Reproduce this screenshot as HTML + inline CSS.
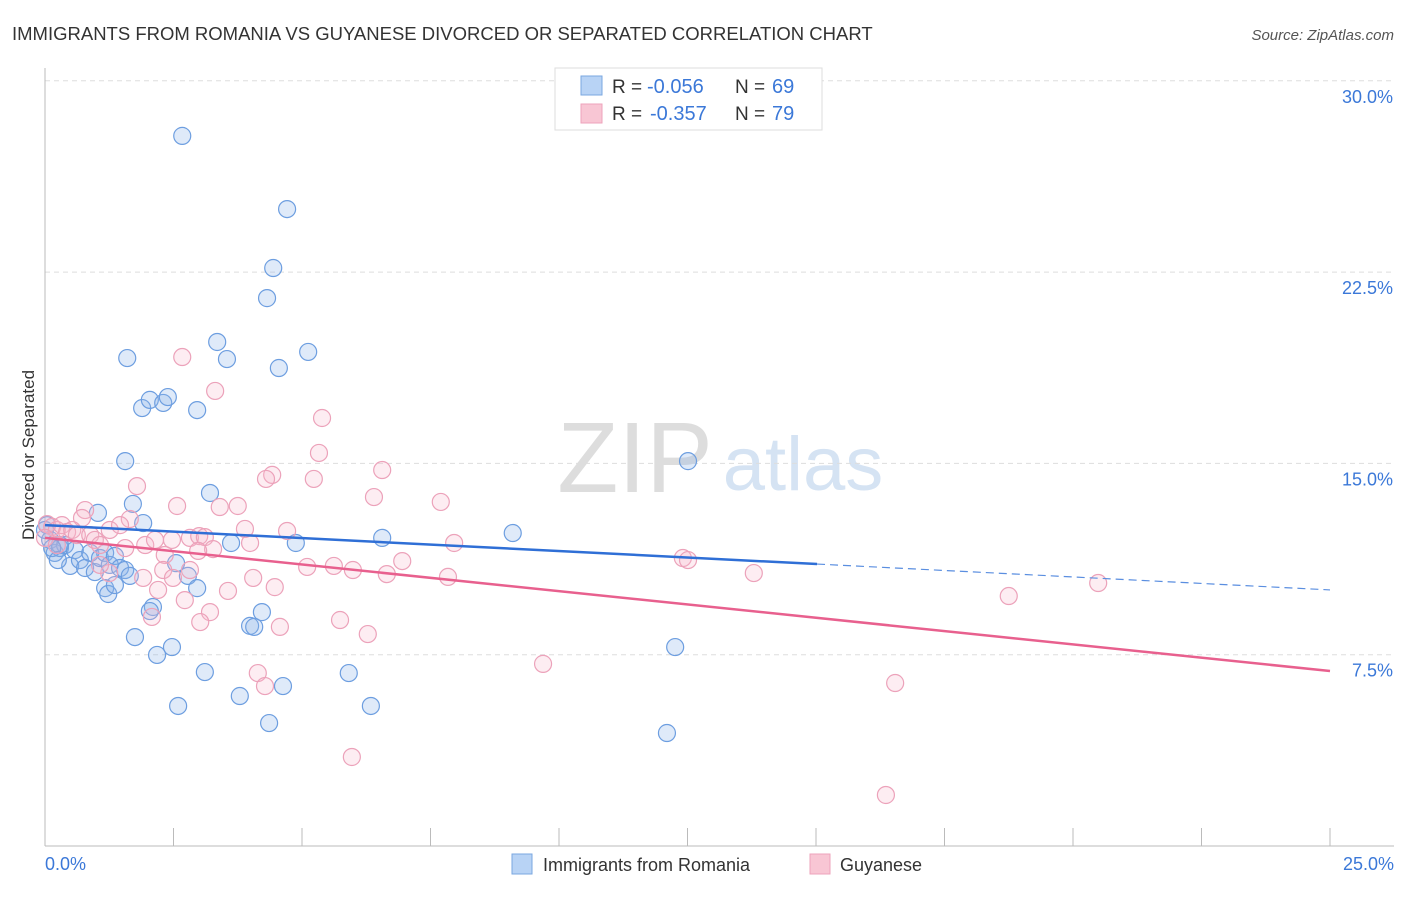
<!DOCTYPE html>
<html><head><meta charset="utf-8"><style>
body{margin:0;background:#fff;font-family:"Liberation Sans",sans-serif}
svg text{font-family:"Liberation Sans",sans-serif}
</style></head><body>
<svg id="c" width="1406" height="892">
<text x="12" y="40" font-size="18.5" fill="#333">IMMIGRANTS FROM ROMANIA VS GUYANESE DIVORCED OR SEPARATED CORRELATION CHART</text>
<text x="1394" y="40" font-size="15" fill="#555" font-style="italic" text-anchor="end">Source: ZipAtlas.com</text>
<text x="635" y="492" font-size="100" fill="#ddd" font-family="Liberation Serif" text-anchor="middle">ZIP</text>
<text x="803" y="490" font-size="76" fill="#d5e3f3" text-anchor="middle">atlas</text>
<text transform="translate(34,455) rotate(-90)" font-size="17" fill="#333" text-anchor="middle">Divorced or Separated</text>
<g id="grid"></g><g id="pts"></g><g id="lines"></g>
<g>
<rect x="555" y="68" width="267" height="62" fill="#fff" stroke="#ddd"/>
<rect x="581" y="76" width="21" height="19" fill="#b8d3f5" stroke="#7aa7e0"/>
<rect x="581" y="104" width="21" height="19" fill="#f8c6d4" stroke="#eea3bb"/>
<text x="612" y="93" font-size="19" fill="#333">R =</text>
<text x="647" y="93" font-size="20" fill="#3b78d8">-0.056</text>
<text x="735" y="93" font-size="19" fill="#333">N =</text>
<text x="772" y="93" font-size="20" fill="#3b78d8">69</text>
<text x="612" y="120" font-size="19" fill="#333">R =</text>
<text x="650" y="120" font-size="20" fill="#3b78d8">-0.357</text>
<text x="735" y="120" font-size="19" fill="#333">N =</text>
<text x="772" y="120" font-size="20" fill="#3b78d8">79</text>
</g>
<g>
<rect x="512" y="854" width="20" height="20" fill="#b8d3f5" stroke="#7aa7e0"/>
<text x="543" y="871" font-size="18" fill="#333">Immigrants from Romania</text>
<rect x="810" y="854" width="20" height="20" fill="#f8c6d4" stroke="#eea3bb"/>
<text x="840" y="871" font-size="18" fill="#333">Guyanese</text>
</g>
</svg>
<script>
const xTicks=[0,2.5,5,7.5,10,12.5,15,17.5,20,22.5,25];
const yTicks=[7.5,15,22.5,30];
const yTickLabels=["7.5%","15.0%","22.5%","30.0%"];
const blueX=[2.67,4.71,4.44,4.32,1.60,3.35,3.54,5.12,4.55,1.89,2.04,2.30,2.39,2.96,1.56,12.51,3.21,1.71,1.03,1.91,9.10,6.56,4.88,3.62,0.04,0.10,0.19,0.29,0.39,0.49,0.58,0.68,0.78,0.88,0.97,1.07,1.17,1.26,1.36,1.46,1.56,1.65,1.17,1.23,1.36,2.55,2.78,2.96,2.10,2.04,1.75,2.18,2.47,3.11,3.99,4.07,4.22,2.59,3.79,4.63,4.36,5.91,6.34,12.26,12.10,0.29,0.14,0.25,0.00];
const blueY=[27.84,24.97,22.66,21.48,19.13,19.76,19.09,19.37,18.74,17.17,17.49,17.37,17.60,17.09,15.09,15.09,13.84,13.41,13.06,12.66,12.27,12.08,11.88,11.88,12.58,12.00,11.49,11.68,11.80,10.98,11.60,11.21,10.90,11.49,10.74,11.29,11.49,11.02,11.37,10.90,10.82,10.59,10.11,9.88,10.23,11.09,10.59,10.11,9.37,9.21,8.19,7.49,7.80,6.82,8.63,8.59,9.17,5.49,5.88,6.27,4.82,6.78,5.49,7.80,4.43,11.80,11.68,11.21,12.39];
const pinkX=[2.67,3.31,5.39,5.33,6.56,4.42,4.30,5.23,1.79,6.40,7.70,2.57,3.75,3.40,0.78,0.72,1.65,0.04,0.14,0.23,0.33,0.43,0.53,0.62,0.88,0.97,1.07,1.26,1.46,1.56,1.95,2.14,2.47,2.82,3.89,4.71,3.00,3.11,3.99,7.96,3.27,2.98,2.33,5.10,5.62,5.99,6.65,6.95,7.84,12.41,12.51,13.79,20.49,18.75,2.30,2.82,2.49,1.91,2.20,2.72,3.21,4.47,4.05,3.02,2.08,4.57,5.74,6.28,3.56,1.25,4.14,4.28,9.69,16.54,5.97,16.36,0.00,0.23,1.07];
const pinkY=[19.17,17.84,16.78,15.41,14.74,14.55,14.39,14.39,14.11,13.68,13.49,13.33,13.33,13.29,13.17,12.86,12.82,12.62,12.51,12.39,12.58,12.31,12.39,12.19,12.19,12.00,11.80,12.39,12.58,11.68,11.80,12.00,12.00,12.08,12.43,12.35,12.15,12.11,11.88,11.88,11.64,11.57,11.41,10.94,10.98,10.82,10.66,11.17,10.55,11.29,11.21,10.70,10.31,9.80,10.82,10.82,10.51,10.51,10.04,9.64,9.17,10.15,10.51,8.78,8.98,8.59,8.86,8.31,10.00,10.70,6.78,6.27,7.14,6.39,3.49,2.00,12.08,11.80,11.02];
const blueTrend=[12.58,10.04]; const blueSolidEnd=15.02;
const pinkTrend=[12.08,6.86];
const NS="http://www.w3.org/2000/svg";
const X=v=>45+v/25*1285, Y=v=>846-v/7.5*191.3;
function mk(tag,attrs,parent){const e=document.createElementNS(NS,tag);for(const k in attrs)e.setAttribute(k,attrs[k]);parent.appendChild(e);return e;}
const grid=document.getElementById('grid');
yTicks.forEach((t,i)=>{
 const l=mk('line',{x1:45,x2:1394,y1:Y(t),y2:Y(t),stroke:'#ddd','stroke-dasharray':'5,4'},grid);
 
 
 const tx=mk('text',{x:1393,y:Y(t)+22,'font-size':18,fill:'#3b78d8','text-anchor':'end'},grid);
 tx.textContent=yTickLabels[i];
 
 
});
const ax=mk('line',{x1:45,x2:45,y1:68,y2:846,stroke:'#bbb'},grid);


const bx=mk('line',{x1:45,x2:1394,y1:846,y2:846,stroke:'#bbb'},grid);


xTicks.forEach(t=>{
 const l=mk('line',{x1:X(t),x2:X(t),y1:828,y2:846,stroke:'#bbb'},grid);
 
 
});
[[0,'0.0%','start',45],[25,'25.0%','end',1394]].forEach(a=>{
 const tx=mk('text',{x:a[3],y:870,'font-size':18,fill:'#3b78d8','text-anchor':a[2]},grid);
 tx.textContent=a[1];
 
 
});
const pts=document.getElementById('pts');
blueX.forEach((x,i)=>{
 const c=mk('circle',{cx:X(x),cy:Y(blueY[i]),r:8.5,fill:'rgba(140,180,235,0.28)',stroke:'#6d9ee0','stroke-width':1.2},pts);
 
 
});
pinkX.forEach((x,i)=>{
 const c=mk('circle',{cx:X(x),cy:Y(pinkY[i]),r:8.5,fill:'rgba(248,185,205,0.25)',stroke:'#eca2ba','stroke-width':1.2},pts);
 
 
});
const ln=document.getElementById('lines');
const by=x=>blueTrend[0]+(blueTrend[1]-blueTrend[0])*x/25;
let l1=mk('line',{x1:X(0),y1:Y(blueTrend[0]),x2:X(blueSolidEnd),y2:Y(by(blueSolidEnd)),stroke:'#2f6fd6','stroke-width':2.5},ln);


let l2=mk('line',{x1:X(blueSolidEnd),y1:Y(by(blueSolidEnd)),x2:X(25),y2:Y(blueTrend[1]),stroke:'#5a8ee0','stroke-width':1.2,'stroke-dasharray':'8,5'},ln);


let l3=mk('line',{x1:X(0),y1:Y(pinkTrend[0]),x2:X(25),y2:Y(pinkTrend[1]),stroke:'#e8608e','stroke-width':2.5},ln);


</script>
</body></html>
